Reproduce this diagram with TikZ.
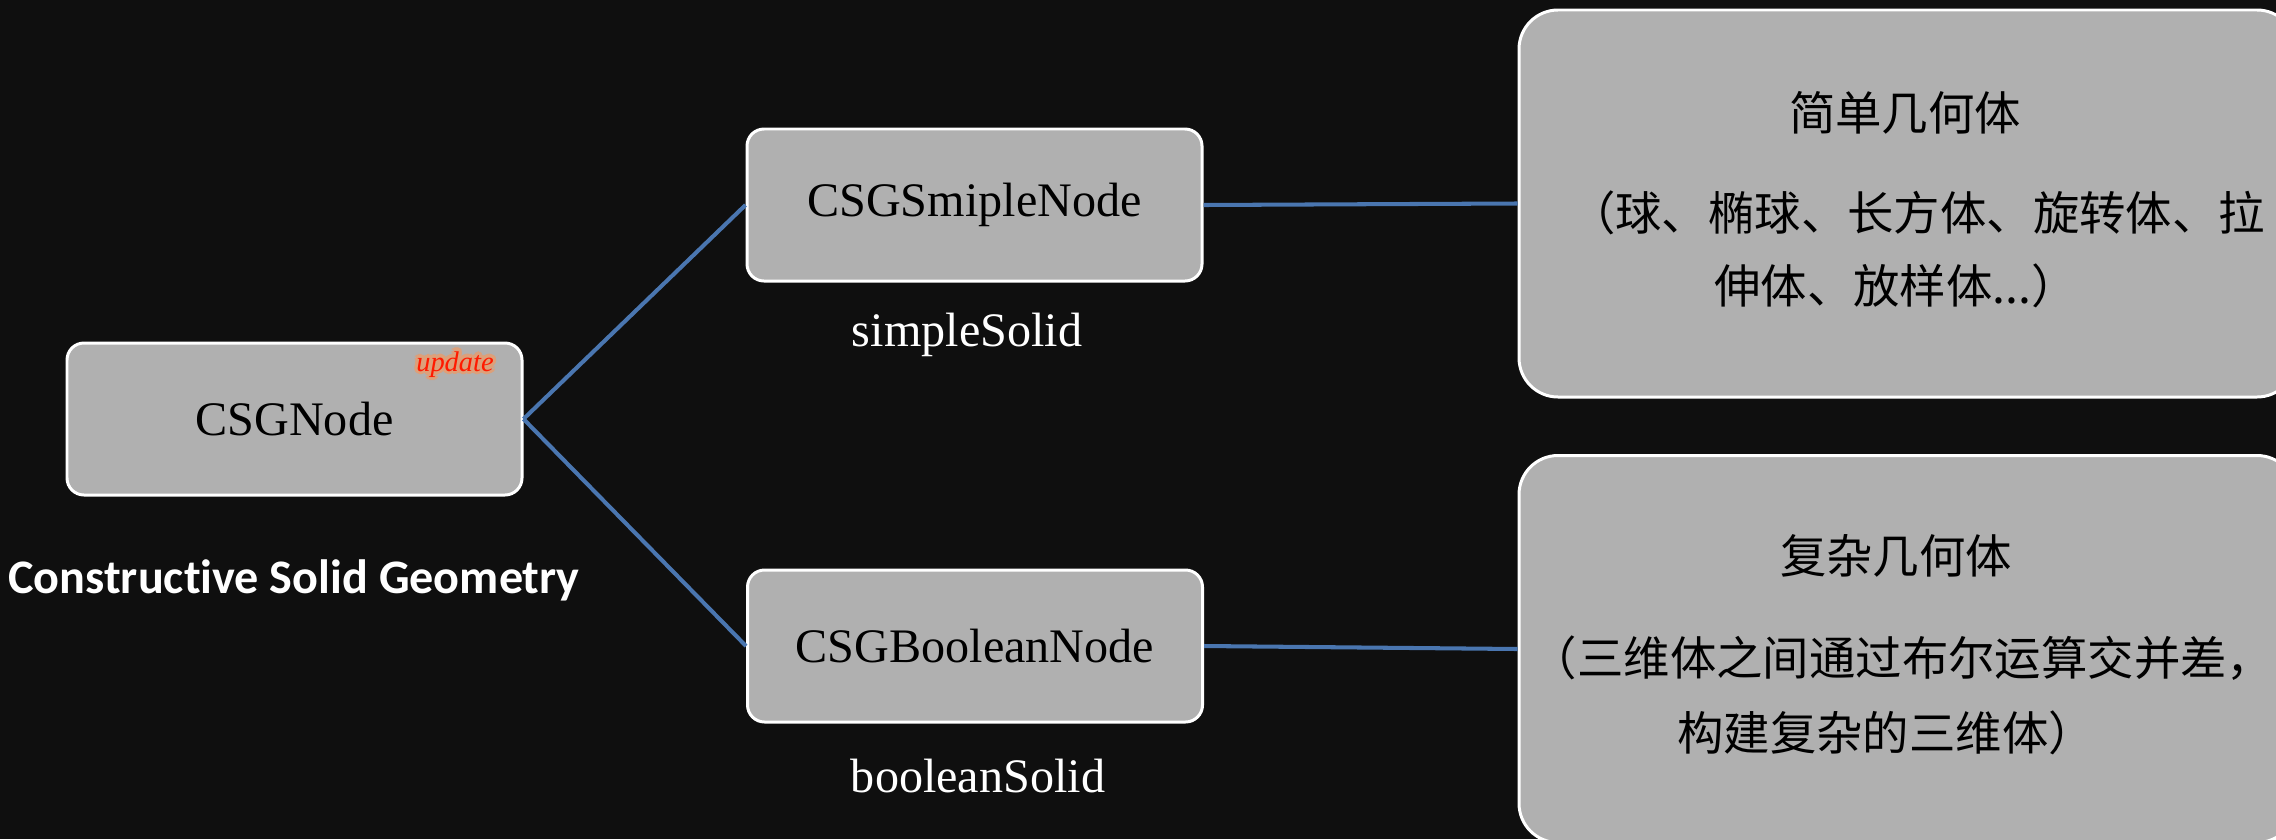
\documentclass[tikz,border=0pt]{standalone}
\usepackage{fontspec}
\setmainfont{Liberation Serif}
\newfontfamily\cjk{Noto Sans CJK SC}
\newfontfamily\carlito[Ligatures=NoCommon]{Carlito}
\usepackage{contour}
\contourlength{0.9pt}
\definecolor{bgdark}{HTML}{0F0F0F}
\definecolor{boxgray}{HTML}{B0B0B0}
\definecolor{linkblue}{HTML}{4A76B0}
\definecolor{updred}{HTML}{FF1A00}
\definecolor{glow}{HTML}{DDA07A}
\tikzset{
  smallbox/.style={draw=white, line width=0.85pt, fill=boxgray, rounded corners=0.17cm,
    minimum width=4.55cm, minimum height=1.52cm, inner sep=0pt, text=black,
    font=\fontsize{13.7pt}{16pt}\selectfont},
  bigbox/.style={draw=white, line width=0.85pt, fill=boxgray, rounded corners=0.39cm,
    minimum width=7.77cm, minimum height=3.87cm, inner sep=0pt},
  link/.style={draw=linkblue, line width=1.15pt},
  serlabel/.style={text=white, anchor=base, inner sep=0pt, font=\fontsize{13.7pt}{16pt}\selectfont},
  cjkline/.style={text=black, inner sep=0pt, text height=0.88em, text depth=0.12em,
    font=\cjk\fontsize{13.2pt}{16pt}\selectfont},
}
\begin{document}
\begin{tikzpicture}
\clip (0,0) rectangle (22.76,8.39);
\fill[bgdark] (0,0) rectangle (22.76,8.39);

% left node
\node[smallbox] (csg) at (2.945,4.20) {CSGNode};
\node[text=updred, anchor=base, inner sep=0pt, font=\itshape\fontsize{8.1pt}{9pt}\selectfont] (upd) at (4.55,4.68) {\contour{glow}{update}};
\node[anchor=base, text=white, inner sep=0pt, font=\carlito\bfseries\fontsize{13.7pt}{16pt}\selectfont] (csglabel) at (2.94,2.46) {Constructive Solid Geometry};

% middle nodes
\node[smallbox] (simple) at (9.745,6.34) {CSGSmipleNode};
\node[serlabel] (simplelabel) at (9.67,4.93) {simpleSolid};
\node[smallbox] (bool) at (9.75,1.93) {CSGBooleanNode};
\node[serlabel] (boollabel) at (9.78,0.47) {booleanSolid};

% right boxes
\node[bigbox] (rtop) at (19.075,6.355) {};
\node[cjkline] (rt1) at (19.05,7.22) {简单几何体};
\node[cjkline] (rt2) at (19.17,6.22) {（球、椭球、长方体、旋转体、拉};
\node[cjkline] (rt3) at (18.96,5.49) {伸体、放样体...）};

\node[bigbox] (rbot) at (19.075,1.90) {};
\node[cjkline] (rb1) at (18.96,2.79) {复杂几何体};
\node[cjkline] (rb2) at (19.02,1.77) {（三维体之间通过布尔运算交并差，};
\node[cjkline] (rb3) at (18.86,1.02) {构建复杂的三维体）};

% connectors
\draw[link] (csg.east) -- (simple.west);
\draw[link] (csg.east) -- (bool.west);
\draw[link] (simple.east) -- (rtop.west);
\draw[link] (bool.east) -- (rbot.west);
\end{tikzpicture}
\end{document}
